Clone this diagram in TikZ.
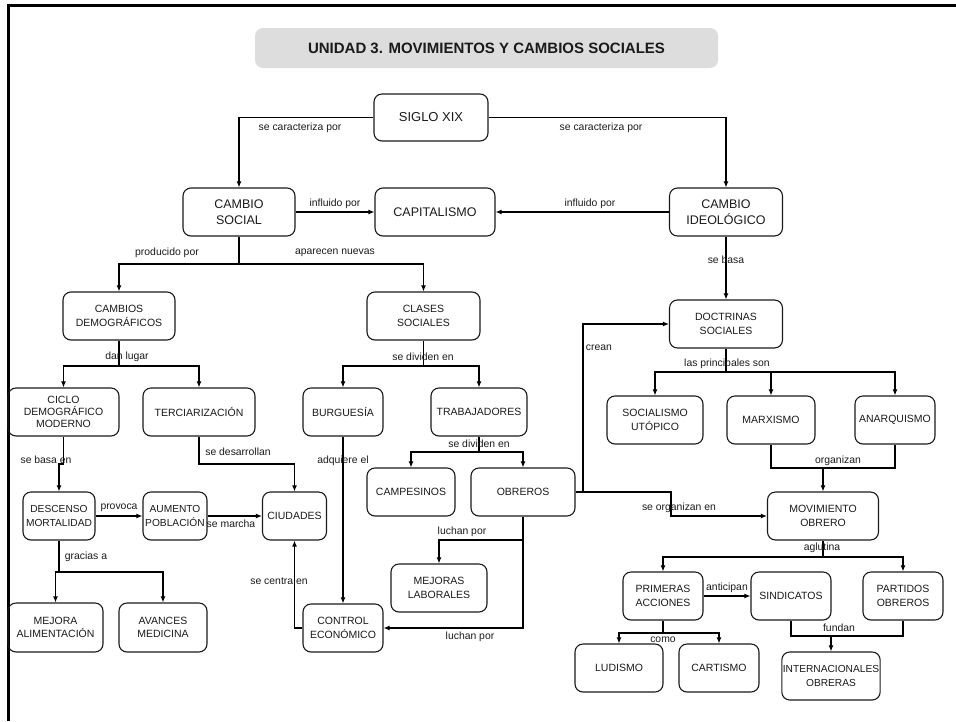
\documentclass[tikz,border=0pt]{standalone}
\usepackage{fontspec}
\setmainfont{Liberation Sans}
\usetikzlibrary{arrows.meta}
\definecolor{titlegray}{HTML}{DDDDDD}
\definecolor{ink}{HTML}{1A1A1A}
\begin{document}
\begin{tikzpicture}[x=1pt,y=-1pt,
  sz/.style 2 args={minimum width=#1pt, minimum height=#2pt},
  box/.style={draw=ink, rounded corners=8pt, line width=1.1pt, align=center, inner sep=1pt,
    text=ink, font=\fontsize{10.5}{13.5}\selectfont},
  bigbox/.style={box, font=\fontsize{12.5}{16}\selectfont},
  lab/.style={inner sep=0pt, text=ink, font=\fontsize{10.4}{12}\selectfont},
  conn/.style={line width=1.3pt, draw=black},
  arr/.style={conn, -{Latex[length=6pt,width=5pt]}}]
\useasboundingbox (0,0) rectangle (956,721);
% frame
\draw[line width=3pt] (956,5) -- (8,5) -- (8,721);
% title
\node[fill=titlegray, rounded corners=8pt, sz={463}{40}, text=ink,
  font=\bfseries\fontsize{15}{17}\selectfont] (title) at (486.5,48) {UNIDAD 3. MOVIMIENTOS Y CAMBIOS SOCIALES};
% nodes
\node[bigbox, sz={114}{47}, font=\fontsize{13}{16}\selectfont] (siglo) at (431,117.5) {SIGLO XIX};
\node[bigbox, sz={112}{48}] (csocial) at (239,212) {CAMBIO\\SOCIAL};
\node[bigbox, sz={120}{48}] (capit) at (435,212) {CAPITALISMO};
\node[bigbox, sz={113}{48}] (cideo) at (726,212) {CAMBIO\\IDEOLÓGICO};
\node[box, sz={112}{48}] (cdemo) at (119,316) {CAMBIOS\\DEMOGRÁFICOS};
\node[box, sz={113}{48}] (clases) at (423.5,316) {CLASES\\SOCIALES};
\node[box, sz={113}{48}] (doctr) at (726,324) {DOCTRINAS\\SOCIALES};
\node[box, sz={111}{48}, font=\fontsize{10.5}{12.2}\selectfont] (ciclo) at (63.5,412) {CICLO\\DEMOGRÁFICO\\MODERNO};
\node[box, sz={112}{48}] (terc) at (199,412) {TERCIARIZACIÓN};
\node[box, sz={80}{48}] (burg) at (343,412) {BURGUESÍA};
\node[box, sz={96}{48}] (trab) at (479,412) {TRABAJADORES};
\node[box, sz={96}{48}] (socut) at (655,420) {SOCIALISMO\\UTÓPICO};
\node[box, sz={88}{48}] (marx) at (771,420) {MARXISMO};
\node[box, sz={80}{48}] (anarq) at (895,420) {ANARQUISMO};
\node[box, sz={88}{48}] (campes) at (411,492) {CAMPESINOS};
\node[box, sz={104}{48}] (obreros) at (523,492) {OBREROS};
\node[box, sz={72}{48}, font=\fontsize{10.2}{13.5}\selectfont] (desc) at (59,516) {DESCENSO\\MORTALIDAD};
\node[box, sz={64}{48}, font=\fontsize{10.2}{13.5}\selectfont] (aumento) at (175,516) {AUMENTO\\POBLACIÓN};
\node[box, sz={64}{48}] (ciudades) at (294.5,516) {CIUDADES};
\node[box, sz={111}{48}] (movob) at (823,516) {MOVIMIENTO\\OBRERO};
\node[box, sz={96}{48}] (mejlab) at (439,588) {MEJORAS\\LABORALES};
\node[box, sz={95}{49}] (mejali) at (55.5,627.5) {MEJORA\\ALIMENTACIÓN};
\node[box, sz={88}{49}] (avanc) at (163,627.5) {AVANCES\\MEDICINA};
\node[box, sz={80}{48}] (control) at (343,628) {CONTROL\\ECONÓMICO};
\node[box, sz={80}{48}] (primeras) at (663,596) {PRIMERAS\\ACCIONES};
\node[box, sz={80}{48}] (sind) at (791,596) {SINDICATOS};
\node[box, sz={80}{48}] (partidos) at (903,596) {PARTIDOS\\OBREROS};
\node[box, sz={88}{48}] (ludismo) at (619,668) {LUDISMO};
\node[box, sz={80}{48}] (cartismo) at (719,668) {CARTISMO};
\node[box, sz={96}{48}, font=\fontsize{10.2}{13.5}\selectfont] (intern) at (831,676) {INTERNACIONALES\\OBRERAS};
% junction coordinates
\coordinate (j1) at (239,264);
\coordinate (j2) at (119,366);
\coordinate (j3) at (423.5,366);
\coordinate (j4) at (726,372);
\coordinate (j5a) at (63.5,464);
\coordinate (j5b) at (59,464);
\coordinate (j6) at (199,464);
\coordinate (j7) at (59,572);
\coordinate (j9) at (479,452);
\coordinate (j10) at (523,540);
\coordinate (j11) at (583,492);
\coordinate (j12) at (671,492);
\coordinate (m1) at (771,468);
\coordinate (m2) at (895,468);
\coordinate (j13) at (823,468);
\coordinate (j14) at (823,557);
\coordinate (j15) at (663,633);
\coordinate (f1) at (791,636);
\coordinate (f2) at (903,636);
\coordinate (j16) at (831,636);
% connectors
\draw[arr] (siglo.west) -| (csocial.north);
\draw[arr] (siglo.east) -| (cideo.north);
\draw[arr] (csocial.east) -- (capit.west);
\draw[arr] (cideo.west) -- (capit.east);
\draw[conn] (csocial.south) -- (j1);
\draw[arr] (j1) -| (cdemo.north);
\draw[arr] (j1) -| (clases.north);
\draw[arr] (cideo.south) -- (doctr.north);
\draw[conn] (cdemo.south) -- (j2);
\draw[arr] (j2) -| (ciclo.north);
\draw[arr] (j2) -| (terc.north);
\draw[conn] (clases.south) -- (j3);
\draw[arr] (j3) -| (burg.north);
\draw[arr] (j3) -| (trab.north);
\draw[conn] (doctr.south) -- (j4);
\draw[arr] (j4) -| (socut.north);
\draw[arr] (j4) -| (marx.north);
\draw[arr] (j4) -| (anarq.north);
\draw[arr] (ciclo.south) -- (j5a) -- (j5b) -- (desc.north);
\draw[arr] (terc.south) -- (j6) -| (ciudades.north);
\draw[arr] (desc.east) -- (aumento.west);
\draw[arr] (aumento.east) -- (ciudades.west);
\draw[conn] (desc.south) -- (j7);
\draw[arr] (j7) -| (mejali.north);
\draw[arr] (j7) -| (avanc.north);
\draw[arr] (burg.south) -- (control.north);
\draw[arr] (control.west) -| (ciudades.south);
\draw[conn] (trab.south) -- (j9);
\draw[arr] (j9) -| (campes.north);
\draw[arr] (j9) -| (obreros.north);
\draw[conn] (obreros.south) -- (j10);
\draw[arr] (j10) -| (mejlab.north);
\draw[arr] (j10) |- (control.east);
\draw[conn] (obreros.east) -- (j11);
\draw[arr] (j11) |- (doctr.west);
\draw[arr] (j11) -- (j12) |- (movob.west);
\draw[conn] (marx.south) -- (m1) -- (m2) -- (anarq.south);
\draw[arr] (j13) -- (movob.north);
\draw[conn] (movob.south) -- (j14);
\draw[arr] (j14) -| (primeras.north);
\draw[arr] (j14) -| (partidos.north);
\draw[arr] (primeras.east) -- (sind.west);
\draw[conn] (primeras.south) -- (j15);
\draw[arr] (j15) -| (ludismo.north);
\draw[arr] (j15) -| (cartismo.north);
\draw[conn] (sind.south) -- (f1) -- (f2) -- (partidos.south);
\draw[arr] (j16) -- (intern.north);
% labels
\node[lab] (l1) at (300,128) {se caracteriza por};
\node[lab] (l2) at (601,128) {se caracteriza por};
\node[lab] (l3) at (335,204) {influido por};
\node[lab] (l4) at (590,204) {influido por};
\node[lab] (l5) at (167,253) {producido por};
\node[lab] (l6) at (335,253) {aparecen nuevas};
\node[lab] (l7) at (726,260) {se basa};
\node[lab] (l8) at (127,357) {dan lugar};
\node[lab] (l9) at (423,357) {se dividen en};
\node[lab] (l10) at (727,364) {las principales son};
\node[lab] (l11) at (46,460) {se basa en};
\node[lab] (l12) at (238,452) {se desarrollan};
\node[lab] (l13) at (343,461) {adquiere el};
\node[lab] (l14) at (479,444) {se dividen en};
\node[lab] (l15) at (599,348) {crean};
\node[lab] (l16) at (838,461) {organizan};
\node[lab] (l17) at (119,508) {provoca};
\node[lab] (l18) at (231,524) {se marcha};
\node[lab] (l19) at (679,508) {se organizan en};
\node[lab] (l20) at (462,532) {luchan por};
\node[lab] (l21) at (822,548) {aglutina};
\node[lab] (l22) at (86,557) {gracias a};
\node[lab] (l23) at (279,581) {se centra en};
\node[lab] (l24) at (727,588) {anticipan};
\node[lab] (l25) at (839,628) {fundan};
\node[lab] (l26) at (663,640) {como};
\node[lab] (l27) at (470,637) {luchan por};
\end{tikzpicture}
\end{document}
